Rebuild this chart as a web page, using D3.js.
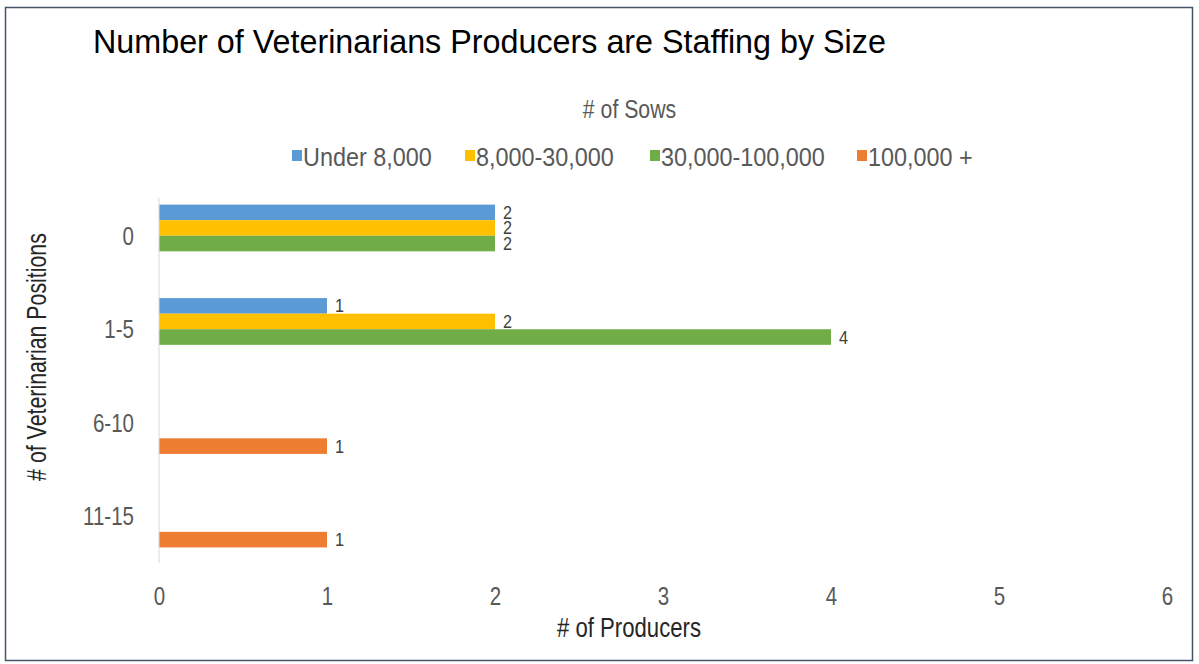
<!DOCTYPE html>
<html>
<head>
<meta charset="utf-8">
<script src="https://cdn.jsdelivr.net/npm/d3@7"></script>
<style>
  html, body { margin: 0; padding: 0; background: #fff; }
  svg { display: block; }
</style>
</head>
<body>
<svg id="chart" width="1199" height="664"></svg>
<script>
// Category labels (top to bottom) and series
const categories = ["0", "1-5", "6-10", "11-15"];
const seriesNames = ["Under 8,000", "8,000-30,000", "30,000-100,000", "100,000 +"];
const seriesColors = ["#5B9BD5", "#FFC000", "#70AD47", "#ED7D31"];
// Producer counts per category, one array per series (null = no bar)
const under8k   = [2, 1, null, null];
const s8to30k   = [2, 2, null, null];
const s30to100k = [2, 4, null, null];
const over100k  = [null, null, 1, 1];
const xTicks = [0, 1, 2, 3, 4, 5, 6];

const seriesValues = [under8k, s8to30k, s30to100k, over100k];

const FONT = "Liberation Sans, Arial, sans-serif";
const NARROW = 0.82; // horizontal squeeze for the condensed axis/legend lettering

const svg = d3.select("#chart");

// condensed text: placed at (x, y), squeezed horizontally around its anchor
function narrowText(parent, x, y, str, opts = {}) {
  return parent.append("text")
    .attr("transform", `translate(${x},${y}) scale(${opts.scale || NARROW},1)`)
    .attr("text-anchor", opts.anchor || "start")
    .attr("font-family", FONT)
    .attr("font-size", opts.size || 26)
    .attr("fill", opts.fill || "#595959")
    .text(str);
}

// outer frame
svg.append("rect")
  .attr("x", 5.5).attr("y", 7.5).attr("width", 1187).attr("height", 653)
  .attr("fill", "#fff").attr("stroke", "#44546A").attr("stroke-width", 1.5);

// title
svg.append("text")
  .attr("x", 93).attr("y", 53)
  .attr("font-family", FONT)
  .attr("font-size", 32.3).attr("fill", "#000")
  .text("Number of Veterinarians Producers are Staffing by Size");

const plot = { left: 159, right: 1167, top: 189, bottom: 563 };

const x = d3.scaleLinear().domain([0, 6]).range([plot.left, plot.right]);
const y = d3.scaleBand().domain(categories).range([plot.top, plot.bottom]).paddingInner(0.3333).paddingOuter(0.1667);
const ySub = d3.scaleBand().domain(d3.range(seriesNames.length)).range([0, y.bandwidth()]);

// legend title
narrowText(svg, 629.5, 118, "# of Sows", { anchor: "middle", size: 25, scale: 0.85 });

// legend entries
const legendX = [292, 465, 650, 857];
seriesNames.forEach((name, i) => {
  const g = svg.append("g").attr("transform", `translate(${legendX[i]},0)`);
  g.append("rect").attr("x", 0).attr("y", 150).attr("width", 10).attr("height", 11).attr("fill", seriesColors[i]);
  narrowText(g, 11, 166, name, { size: 26, scale: 0.9 });
});

// bars with value labels
const bars = svg.append("g");
seriesValues.forEach((vals, si) => {
  vals.forEach((v, ci) => {
    if (v == null) return;
    const y0 = y(categories[ci]) + ySub(si);
    bars.append("rect")
      .attr("x", x(0)).attr("y", y0)
      .attr("width", x(v) - x(0)).attr("height", ySub.bandwidth())
      .attr("fill", seriesColors[si]);
    narrowText(bars, x(v) + 8, y0 + ySub.bandwidth() / 2 + 6.5, String(v), { size: 18, fill: "#404040", scale: 0.9 });
  });
});

// category axis line
svg.append("line")
  .attr("x1", x(0)).attr("x2", x(0)).attr("y1", plot.top + 9).attr("y2", plot.bottom)
  .attr("stroke", "#D9D9D9").attr("stroke-width", 1);

// category labels
const yAxis = d3.axisLeft(y).tickSize(0).tickPadding(25);
const gy = svg.append("g").attr("transform", `translate(${x(0)},0)`).call(yAxis);
gy.select(".domain").remove();
gy.selectAll(".tick text").each(function () {
  const t = d3.select(this);
  const xp = +t.attr("x");
  t.attr("x", null).attr("dy", null)
    .attr("transform", `translate(${xp},9) scale(${NARROW},1)`)
    .attr("font-family", FONT).attr("font-size", 25).attr("fill", "#595959");
});

// value axis labels
const xAxis = d3.axisBottom(x).tickValues(xTicks).tickFormat(d3.format("d")).tickSize(0).tickPadding(22);
const gx = svg.append("g").attr("transform", `translate(0,${plot.bottom})`).call(xAxis);
gx.select(".domain").remove();
gx.selectAll(".tick text").each(function () {
  const t = d3.select(this);
  t.attr("y", null).attr("dy", null)
    .attr("transform", `translate(0,42) scale(${NARROW},1)`)
    .attr("font-family", FONT).attr("font-size", 25).attr("fill", "#595959");
});

// axis titles
narrowText(svg, 629, 637, "# of Producers", { anchor: "middle", size: 27, fill: "#262626" });
svg.append("text")
  .attr("transform", "translate(46,357) rotate(-90) scale(0.79,1)")
  .attr("text-anchor", "middle")
  .attr("font-family", FONT).attr("font-size", 27).attr("fill", "#262626")
  .text("# of Veterinarian Positions");
</script>
</body>
</html>
